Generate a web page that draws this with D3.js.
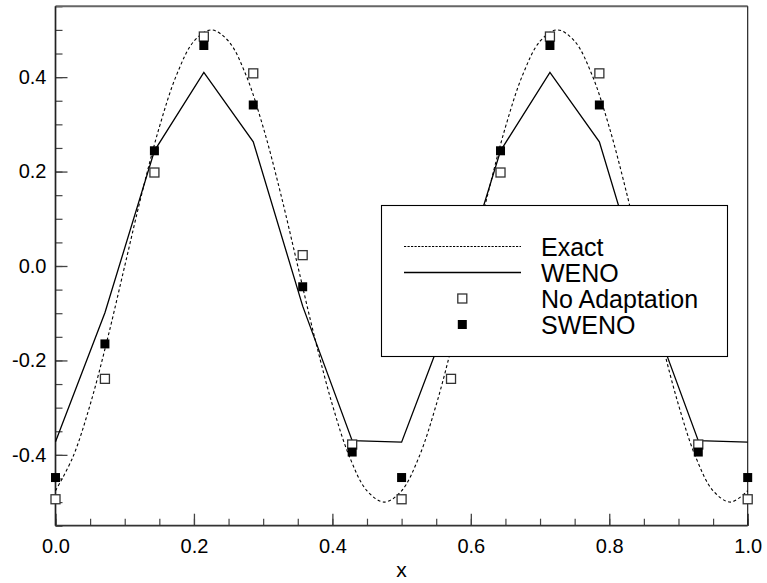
<!DOCTYPE html>
<html><head><meta charset="utf-8">
<script src="https://cdn.jsdelivr.net/npm/d3@7"></script>
<style>body{margin:0;background:#fff}svg{display:block;font-family:"Liberation Sans",Arial,Helvetica,sans-serif}</style>
</head><body><svg id="c" width="767" height="583"></svg>
<script>
// ---- data ----
const exactX = [0,0.025,0.05,0.075,0.1,0.125,0.15,0.175,0.2,0.225,0.25,0.275,0.3,0.325,0.35,0.375,0.4,0.425,0.45,0.475,0.5,
                0.525,0.55,0.575,0.6,0.625,0.65,0.675,0.7,0.725,0.75,0.775,0.8,0.825,0.85,0.875,0.9,0.925,0.95,0.975,1.0];
const exactY = [-0.476,-0.405,-0.294,-0.155,0.0,0.155,0.294,0.405,0.476,0.5,0.476,0.405,0.294,0.155,0.0,-0.155,-0.294,-0.405,-0.476,-0.5,-0.476,
                -0.405,-0.294,-0.155,0.0,0.155,0.294,0.405,0.476,0.5,0.476,0.405,0.294,0.155,0.0,-0.155,-0.294,-0.405,-0.476,-0.5,-0.476];
const gridX    = [0,0.0714,0.1429,0.2143,0.2857,0.3571,0.4286,0.5,0.5714,0.6429,0.7143,0.7857,0.8571,0.9286,1.0];
const wenoY    = [-0.372,-0.099,0.244,0.410,0.263,-0.085,-0.370,-0.373,-0.097,0.244,0.410,0.263,-0.085,-0.370,-0.373];
const noAdaptY = [-0.494,-0.239,0.198,0.486,0.408,0.023,-0.378,-0.494,-0.239,0.198,0.486,0.408,0.023,-0.378,-0.494];
const swenoY   = [-0.448,-0.165,0.244,0.467,0.341,-0.044,-0.394,-0.448,-0.165,0.244,0.467,0.341,-0.044,-0.394,-0.448];
const xMajor = [0,0.2,0.4,0.6,0.8,1.0];
const xLabels = ["0.0","0.2","0.4","0.6","0.8","1.0"];
const yMajor = [-0.4,-0.2,0,0.2,0.4];
const yLabels = ["-0.4","-0.2","0.0","0.2","0.4"];
const xMinor = d3.range(0,21).map(i=>i*0.05);
const yMinor = d3.range(-11,12).map(i=>i*0.05);
const legendNames = ["Exact","WENO","No Adaptation","SWENO"];
const xTitle = "x";

// ---- layout ----
const W=767,H=583, L=55.5, R=747.7, T=6.3, B=525.7;
const svg=d3.select("#c");
const x=d3.scaleLinear().domain([0,1]).range([L,R]);
const y=d3.scaleLinear().domain([-0.55,0.55]).range([B,T]);

// minor ticks
svg.append("g").attr("transform",`translate(0,${B})`)
  .call(d3.axisBottom(x).tickValues(xMinor).tickSize(-7).tickFormat(""))
  .call(g=>{g.select(".domain").remove();g.selectAll("line").attr("stroke","#444").attr("stroke-width",1.2);});
svg.append("g").attr("transform",`translate(${L},0)`)
  .call(d3.axisLeft(y).tickValues(yMinor).tickSize(-7).tickFormat(""))
  .call(g=>{g.select(".domain").remove();g.selectAll("line").attr("stroke","#444").attr("stroke-width",1.2);});
// major ticks
svg.append("g").attr("transform",`translate(0,${B})`)
  .call(d3.axisBottom(x).tickValues(xMajor).tickSize(-12).tickPadding(13.4).tickFormat((d,i)=>xLabels[i]))
  .call(g=>{g.select(".domain").remove();g.selectAll("line").attr("stroke","#444").attr("stroke-width",1.3);
    g.selectAll("text").attr("font-size",20).attr("fill","#000").attr("font-family","Liberation Sans, Arial, sans-serif");});
svg.append("g").attr("transform",`translate(${L},0)`)
  .call(d3.axisLeft(y).tickValues(yMajor).tickSize(-12).tickPadding(9).tickFormat((d,i)=>yLabels[i]))
  .call(g=>{g.select(".domain").remove();g.selectAll("line").attr("stroke","#444").attr("stroke-width",1.3);
    g.selectAll("text").attr("font-size",20).attr("fill","#000").attr("font-family","Liberation Sans, Arial, sans-serif");});

// frame
svg.append("line").attr("x1",L).attr("x2",R).attr("y1",T).attr("y2",T).attr("stroke","#666").attr("stroke-width",2);
svg.append("line").attr("x1",R).attr("x2",R).attr("y1",T).attr("y2",B).attr("stroke","#111").attr("stroke-width",1.1);
svg.append("line").attr("x1",L).attr("x2",L).attr("y1",T).attr("y2",B).attr("stroke","#222").attr("stroke-width",1.7);
svg.append("line").attr("x1",L).attr("x2",R).attr("y1",B).attr("y2",B).attr("stroke","#333").attr("stroke-width",1.8);

// axis title
svg.append("text").attr("x",x(0.5)).attr("y",577).attr("text-anchor","middle").attr("font-size",21).text(xTitle);

// exact curve
const exactLine=d3.line().x(d=>x(d[0])).y(d=>y(d[1])).curve(d3.curveCatmullRom);
svg.append("path").datum(exactX.map((v,i)=>[v,exactY[i]])).attr("d",exactLine)
  .attr("fill","none").attr("stroke","#000").attr("stroke-width",1.1).attr("stroke-dasharray","3,2.5");
// WENO line
const wenoLine=d3.line().x(d=>x(d[0])).y(d=>y(d[1]));
svg.append("path").datum(gridX.map((v,i)=>[v,wenoY[i]])).attr("d",wenoLine)
  .attr("fill","none").attr("stroke","#000").attr("stroke-width",1.3);

const S=9;
// No adaptation (open squares)
svg.append("g").selectAll("rect").data(gridX.map((v,i)=>[v,noAdaptY[i]])).join("rect")
  .attr("x",d=>x(d[0])-S/2).attr("y",d=>y(d[1])-S/2).attr("width",S).attr("height",S)
  .attr("fill","#fff").attr("stroke","#333").attr("stroke-width",1.3);
// SWENO (filled)
svg.append("g").selectAll("rect").data(gridX.map((v,i)=>[v,swenoY[i]])).join("rect")
  .attr("x",d=>x(d[0])-S/2).attr("y",d=>y(d[1])-S/2).attr("width",S).attr("height",S)
  .attr("fill","#000");

// legend
const lg=svg.append("g");
lg.append("rect").attr("x",381.5).attr("y",205.5).attr("width",346).attr("height",151)
  .attr("fill","#fff").attr("stroke","#000").attr("stroke-width",1.1);
const rows=[246.5,272.5,298.5,324.5];
lg.append("line").attr("x1",404).attr("x2",521).attr("y1",rows[0]).attr("y2",rows[0])
  .attr("stroke","#000").attr("stroke-width",1.1).attr("stroke-dasharray","2.2,1.3");
lg.append("line").attr("x1",404).attr("x2",521).attr("y1",rows[1]).attr("y2",rows[1])
  .attr("stroke","#000").attr("stroke-width",1.3);
lg.append("rect").attr("x",462.3-S/2).attr("y",rows[2]-S/2).attr("width",S).attr("height",S)
  .attr("fill","#fff").attr("stroke","#333").attr("stroke-width",1.3);
lg.append("rect").attr("x",462.3-S/2).attr("y",rows[3]-S/2).attr("width",S).attr("height",S).attr("fill","#000");
lg.selectAll("text.lt").data(legendNames).join("text").attr("class","lt")
  .attr("x",541).attr("y",(d,i)=>rows[i]+9).attr("font-size",25).attr("fill","#000").text(d=>d);
</script></body></html>
